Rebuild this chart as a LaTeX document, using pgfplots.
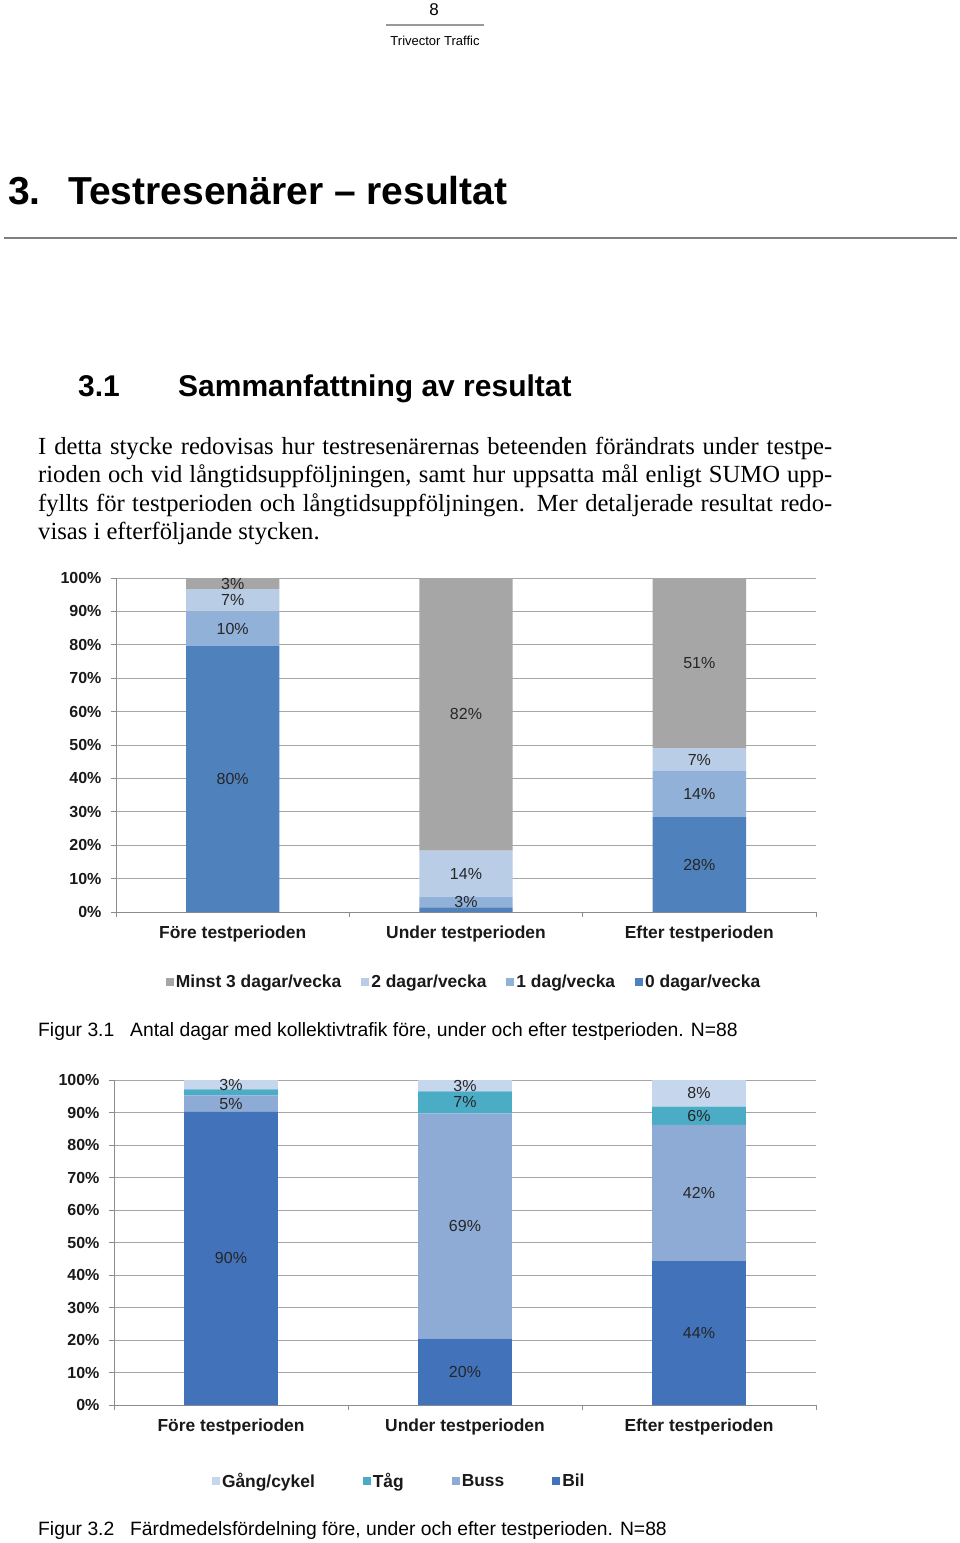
\documentclass[border=0pt]{standalone}
\usepackage{fontspec}
\setmainfont{Liberation Serif}
\setsansfont{Liberation Sans}
\usepackage{pgfplots}
\usepackage{pgfplotstable}
\pgfplotsset{compat=1.18}
\definecolor{cZero}{HTML}{4F81BD}
\definecolor{cOne}{HTML}{91B1D9}
\definecolor{cTwo}{HTML}{B9CDE6}
\definecolor{cThree}{HTML}{A6A6A6}
\definecolor{cBil}{HTML}{4172BA}
\definecolor{cBuss}{HTML}{8DABD5}
\definecolor{cTag}{HTML}{4BACC6}
\definecolor{cGang}{HTML}{C6D6EC}
\definecolor{axisgray}{HTML}{8C8C8C}
\definecolor{gridgray}{HTML}{A6A6A6}
\newcommand{\fs}[1]{\fontsize{#1}{#1}\selectfont}
% chart 1: Antal dagar med kollektivtrafik
\pgfplotstableread[row sep=\\]{x v lab\\ 0 79.6 80\%\\ 1 1.4 {}\\ 2 28.4 28\%\\}\tZero
\pgfplotstableread[row sep=\\]{x v lab\\ 0 10.4 10\%\\ 1 3.2 3\%\\ 2 13.8 14\%\\}\tOne
\pgfplotstableread[row sep=\\]{x v lab\\ 0 6.7 7\%\\ 1 13.8 14\%\\ 2 6.9 7\%\\}\tTwo
\pgfplotstableread[row sep=\\]{x v lab\\ 0 3.3 3\%\\ 1 81.6 82\%\\ 2 50.9 51\%\\}\tThree
% chart 2: Färdmedelsfördelning
\pgfplotstableread[row sep=\\]{x v lab\\ 0 90.2 90\%\\ 1 20.4 20\%\\ 2 44.3 44\%\\}\tBil
\pgfplotstableread[row sep=\\]{x v lab\\ 0 5.1 5\%\\ 1 69.3 69\%\\ 2 41.9 42\%\\}\tBuss
\pgfplotstableread[row sep=\\]{x v lab\\ 0 1.8 {}\\ 1 6.8 7\%\\ 2 5.6 6\%\\}\tTag
\pgfplotstableread[row sep=\\]{x v lab\\ 0 2.9 3\%\\ 1 3.5 3\%\\ 2 8.2 8\%\\}\tGang
\pgfplotsset{
  mybar/.style={
    ybar stacked, scale only axis, anchor=south west,
    xmin=-0.5, xmax=2.5, ymin=0, ymax=100,
    bar width=0.4,
    axis x line*=bottom, axis y line*=left,
    axis line style={draw=axisgray, line width=1pt, -},
    ytick={0,10,...,100},
    yticklabel={\pgfmathprintnumber{\tick}\%},
    /pgf/number format/assume math mode=true,
    yticklabel style={font=\sffamily\bfseries\fs{16}, text=black!90, xshift=-6pt},
    ymajorgrids, grid style={draw=gridgray, line width=0.9pt},
    xtick={0,1,2},
    xticklabels={Före testperioden, Under testperioden, Efter testperioden},
    xticklabel style={font=\sffamily\bfseries\fs{17.4}, text=black!90, yshift=-5pt},
    minor xtick={-0.5,0.5,1.5,2.5},
    tick align=outside,
    major tick length=5pt, minor tick length=5pt,
    tick style={draw=axisgray, line width=1pt},
    major x tick style={draw=none},
    nodes near coords,
    point meta=explicit symbolic,
    every node near coord/.append style={font=\sffamily\fs{16}, text=black!85, anchor=center},
    legend style={draw=none, fill=none, inner sep=0pt, outer sep=0pt,
      font=\sffamily\bfseries\fs{17.4}, text=black!90},
    legend image code/.code={\fill[##1] (0pt,-4pt) rectangle (8pt,4pt);},
    reverse legend,
    clip=false,
  }
}
\begin{document}
\begin{tikzpicture}
\fill[white] (0pt,0pt) rectangle (960pt,-1543pt);
% header
\node[anchor=base, inner sep=0pt, font=\sffamily\fs{17}] at (434pt,-15pt) {8};
\draw[gray!80, line width=1.2pt] (386pt,-25pt) -- (484pt,-25pt);
\node[anchor=base, inner sep=0pt, font=\sffamily\fs{13}] at (435pt,-45pt) {Trivector Traffic};
% title
\node[anchor=base west, inner sep=0pt, font=\sffamily\bfseries\fs{39}] at (8pt,-204pt) {3.};
\node[anchor=base west, inner sep=0pt, font=\sffamily\bfseries\fs{39}] at (68pt,-204pt) {Testresenärer – resultat};
\draw[gray, line width=1.2pt] (4pt,-238pt) -- (957pt,-238pt);
% section
\node[anchor=base west, inner sep=0pt, font=\sffamily\bfseries\fs{30}] at (78pt,-396pt) {3.1};
\node[anchor=base west, inner sep=0pt, font=\sffamily\bfseries\fs{30}] at (178pt,-396pt) {Sammanfattning av resultat};
% body
\node[anchor=base west, inner sep=0pt, font=\fs{24.6}] at (38pt,-454pt) {\makebox[794pt][s]{I detta stycke redovisas hur testresenärernas beteenden förändrats under testpe-}};
\node[anchor=base west, inner sep=0pt, font=\fs{24.6}] at (38pt,-482.5pt) {\makebox[794pt][s]{rioden och vid långtidsuppföljningen, samt hur uppsatta mål enligt SUMO upp-}};
\node[anchor=base west, inner sep=0pt, font=\fs{24.6}] at (38pt,-511pt) {\makebox[794pt][s]{fyllts för testperioden och långtidsuppföljningen. Mer detaljerade resultat redo-}};
\node[anchor=base west, inner sep=0pt, font=\fs{24.6}] at (38pt,-539.5pt) {visas i efterföljande stycken.};

% chart 1
\begin{axis}[mybar, at={(116pt,-912pt)}, width=700pt, height=334pt,
  legend columns=4,
  legend style={at={(axis description cs:0.0714,-0.2096)}, anchor=west,
    /tikz/every even column/.append style={column sep=18pt}}]
\addplot[fill=cZero, draw=none] table[x=x, y=v, meta=lab] {\tZero};
\addlegendentry{0 dagar/vecka}
\addplot[fill=cOne, draw=none] table[x=x, y=v, meta=lab] {\tOne};
\addlegendentry{1 dag/vecka}
\addplot[fill=cTwo, draw=none] table[x=x, y=v, meta=lab] {\tTwo};
\addlegendentry{2 dagar/vecka}
\addplot[fill=cThree, draw=none] table[x=x, y=v, meta=lab] {\tThree};
\addlegendentry{Minst 3 dagar/vecka}
\end{axis}
\node[anchor=base west, inner sep=0pt, font=\sffamily\fs{19.3}] at (38pt,-1036pt) {Figur 3.1};
\node[anchor=base west, inner sep=0pt, font=\sffamily\fs{19.3}] at (130pt,-1036pt) {Antal dagar med kollektivtrafik före, under och efter testperioden. N=88};

% chart 2
\begin{axis}[mybar, at={(114pt,-1405pt)}, width=702pt, height=325pt,
  legend columns=4,
  legend style={at={(axis description cs:0.1396,-0.2338)}, anchor=west,
    /tikz/every even column/.append style={column sep=46pt}}]
\addplot[fill=cBil, draw=none] table[x=x, y=v, meta=lab] {\tBil};
\addlegendentry{Bil}
\addplot[fill=cBuss, draw=none] table[x=x, y=v, meta=lab] {\tBuss};
\addlegendentry{Buss}
\addplot[fill=cTag, draw=none] table[x=x, y=v, meta=lab] {\tTag};
\addlegendentry{Tåg}
\addplot[fill=cGang, draw=none] table[x=x, y=v, meta=lab] {\tGang};
\addlegendentry{Gång/cykel}
\end{axis}
\node[anchor=base west, inner sep=0pt, font=\sffamily\fs{19.3}] at (38pt,-1535pt) {Figur 3.2};
\node[anchor=base west, inner sep=0pt, font=\sffamily\fs{19.3}] at (130pt,-1535pt) {Färdmedelsfördelning före, under och efter testperioden. N=88};
\end{tikzpicture}
\end{document}
